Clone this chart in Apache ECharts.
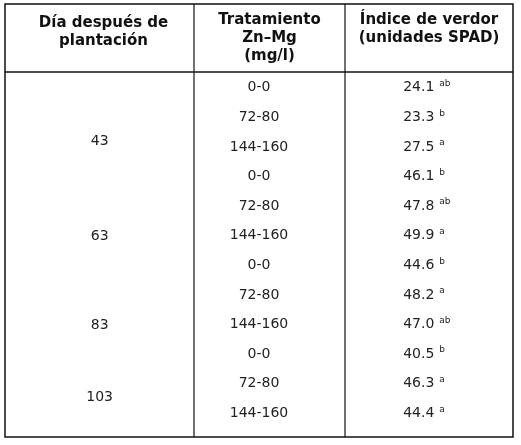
<!DOCTYPE html>
<html lang="es">
<head>
<meta charset="UTF-8" />
<script src="https://cdn.jsdelivr.net/npm/echarts@6.0.0/dist/echarts.min.js"></script>
<style>
  html, body { margin: 0; padding: 0; background: #fff; }
  #chart { width: 521px; height: 445px; }
</style>
</head>
<body>
<div id="chart"></div>
<script>
  // table data
  const days = ['43', '63', '83', '103']
  const dayRowPos = [1.82, 5.03, 8.04, 10.47] // row (0-based, fractional) where each day label sits
  const treatments = ['0-0', '72-80', '144-160', '0-0', '72-80', '144-160', '0-0', '72-80', '144-160', '0-0', '72-80', '144-160']
  const spad = ['24.1', '23.3', '27.5', '46.1', '47.8', '49.9', '44.6', '48.2', '47.0', '40.5', '46.3', '44.4']
  const letters = ['ab', 'b', 'a', 'b', 'ab', 'a', 'b', 'a', 'ab', 'b', 'a', 'a']
  const headers = [
    ['Día después de', 'plantación'],
    ['Tratamiento', 'Zn–Mg', '(mg/l)'],
    ['Índice de verdor', '(unidades SPAD)']
  ]

  const FONT = '"DejaVu Sans", sans-serif'
  const L = 5, R = 513, T = 4, H = 72, B = 437, C1 = 194, C2 = 345
  const chart = echarts.init(document.getElementById('chart'), null, { renderer: 'canvas' })

  const rows = treatments.map((t, i) => [i, t, spad[i], letters[i]])
  const dayData = days.map((d, i) => [dayRowPos[i], d])

  const headerGraphics = []
  const colCenters = [(L + C1) / 2 + 4, (C1 + C2) / 2, (C2 + R) / 2]
  const headerTops = [14, 11, 11]
  headers.forEach((lines, c) => {
    headerGraphics.push({
      type: 'text',
      x: colCenters[c], y: headerTops[c],
      style: {
        text: lines.join('\n'), font: 'bold 15px ' + FONT, fill: '#111',
        align: 'center', verticalAlign: 'top', lineHeight: 18
      }
    })
  })
  // borders
  const line = (x1, y1, x2, y2, w) => ({ type: 'line', shape: { x1, y1, x2, y2 }, style: { stroke: '#111', lineWidth: w || 1 } })
  headerGraphics.push(
    { type: 'rect', shape: { x: L, y: T, width: R - L, height: B - T }, style: { fill: 'none', stroke: '#111', lineWidth: 1.5 } },
    line(L, H, R, H, 1.5), line(C1, T, C1, B, 1.2), line(C2, T, C2, B, 1.2)
  )

  chart.setOption({
    animation: false,
    grid: { left: L, right: 521 - R, top: 73, bottom: 17 },
    xAxis: { type: 'value', min: 0, max: 3, show: false },
    yAxis: { type: 'value', min: -0.5, max: 11.5, inverse: true, show: false },
    graphic: headerGraphics,
    series: [
      {
        type: 'custom',
        data: rows,
        dimensions: [{ name: 'row', type: 'number' }, { name: 'trt', type: 'ordinal' }, { name: 'val', type: 'ordinal' }, { name: 'sig', type: 'ordinal' }],
        renderItem: function (params, api) {
          const y = api.value(0)
          const p1 = api.coord([1.5, y])
          const p2 = api.coord([2.5, y])
          return {
            type: 'group',
            children: [
              { type: 'text', x: p1[0], y: p1[1], style: { text: rows[params.dataIndex][1], font: '14px ' + FONT, fill: '#222', align: 'center', verticalAlign: 'middle' } },
              { type: 'text', x: p2[0] + 6, y: p2[1], style: { text: rows[params.dataIndex][2], font: '14px ' + FONT, fill: '#222', align: 'right', verticalAlign: 'middle' } },
              { type: 'text', x: p2[0] + 11, y: p2[1] - 4, style: { text: rows[params.dataIndex][3], font: '9px ' + FONT, fill: '#222', align: 'left', verticalAlign: 'middle' } }
            ]
          }
        },
        encode: { x: 0, y: 0 }
      },
      {
        type: 'custom',
        data: dayData,
        renderItem: function (params, api) {
          const p = api.coord([0.5, api.value(0)])
          return { type: 'text', x: p[0] + 10, y: p[1], style: { text: dayData[params.dataIndex][1], font: '14px ' + FONT, fill: '#222', align: 'center', verticalAlign: 'middle' } }
        },
        encode: { x: 1, y: 0 }
      }
    ]
  })
</script>
</body>
</html>
